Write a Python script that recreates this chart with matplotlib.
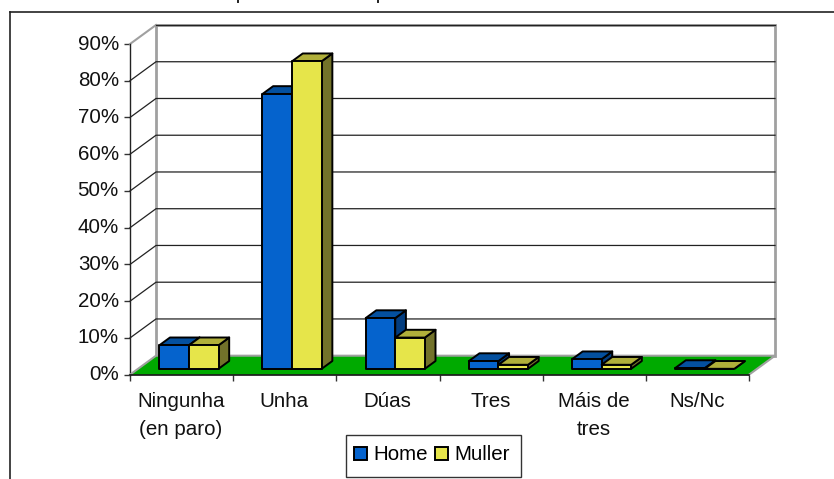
import matplotlib
matplotlib.use("Agg")
import matplotlib.pyplot as plt
from matplotlib.patches import Patch, Polygon, Rectangle
from matplotlib.lines import Line2D
from matplotlib.transforms import ScaledTranslation

categories = ["Ningunha\n(en paro)", "Unha", "Dúas", "Tres", "Máis de\ntres", "Ns/Nc"]
home = [6.4, 74.8, 13.8, 2.1, 2.6, 0.2]
muller = [6.4, 83.7, 8.5, 1.1, 1.1, 0.0]
y_ticks = [0, 10, 20, 30, 40, 50, 60, 70, 80, 90]

W, H = 834, 479
plt.rcParams["font.family"] = ["Liberation Sans", "DejaVu Sans"]
fig = plt.figure(figsize=(W / 100, H / 100), dpi=100)

# front plane of the fake 3d box, pixel box from the reference
left, right, top, bottom = 130, 749, 44, 374.7
ax = fig.add_axes([left / W, 1 - bottom / H, (right - left) / W, (bottom - top) / H])
ax.set_xlim(0, 6)
ax.set_ylim(0, 90)
ax.patch.set_visible(False)
for s in ax.spines.values():
    s.set_visible(False)

# depth of the box in data units
dx = 26 / 103.17
dy = 19 / 3.674
GREY = "#a0a0a0"


def shift(x, y, d):
    return (x + dx * d, y + dy * d)


# walls and floor
ax.add_patch(Rectangle(shift(0, 0, 1), 6, 90, fc="white", ec=GREY, lw=2, clip_on=False, zorder=1))
ax.add_patch(Polygon([(0, 0), (6, 0), shift(6, 0, 1), shift(0, 0, 1)], closed=True,
                     fc="#00aa00", ec="none", clip_on=False, zorder=3))
ax.plot(*zip((0, 90), shift(0, 90, 1)), color=GREY, lw=1.5, clip_on=False, zorder=2)
ax.plot(*zip((0, 0), shift(0, 0, 1), shift(6, 0, 1), (6, 0)), color=GREY, lw=1.5, clip_on=False, zorder=3.5)

# gridlines run along side wall and back wall
for v in y_ticks[1:-1]:
    ax.plot([0, dx, 6 + dx], [v, v + dy, v + dy], color="#222222", lw=0.9, clip_on=False, zorder=2)
ax.plot([dx, 6 + dx], [90 + dy, 90 + dy], color="#222222", lw=0.9, clip_on=False, zorder=2)
ax.plot([0, 0], [0, 90], color="#222222", lw=1, clip_on=False, zorder=2)
ax.plot([0, 6], [0, 0], color="#111111", lw=1.2, clip_on=False, zorder=4)

bar_w = 29.6 / 103.17
near = 0.31
depth = 0.41


def bar(x0, value, face, side, roof, z):
    x1 = x0 + bar_w
    ya = dy * near
    p0 = shift(x0, ya, near)[0]
    p1 = shift(x1, ya, near)[0]
    yt = ya + value
    ex = dx * depth
    ey = dy * depth
    kw = dict(closed=True, ec="black", lw=1.4, clip_on=False, zorder=z, joinstyle="round")
    ax.add_patch(Polygon([(p1, ya), (p1 + ex, ya + ey), (p1 + ex, yt + ey), (p1, yt)], fc=side, **kw))
    ax.add_patch(Polygon([(p0, yt), (p1, yt), (p1 + ex, yt + ey), (p0 + ex, yt + ey)], fc=roof, **kw))
    ax.add_patch(Polygon([(p0, ya), (p1, ya), (p1, yt), (p0, yt)], fc=face, **kw))


for i in range(len(categories)):
    start = i + 0.5 - bar_w - 0.007
    bar(start, home[i], "#0563cd", "#033d7f", "#04509f", 5 + i)
    bar(start + bar_w, muller[i], "#e6e54a", "#72722a", "#b0af3a", 5.5 + i)

ax.set_xticks(range(7))
ax.set_xticklabels([])
ax.set_yticks(y_ticks)
ax.set_yticklabels([f"{v}%" for v in y_ticks], fontsize=14.8, color="#111111")
ax.tick_params(axis="both", length=4, width=1, color="#333333", pad=4)
up = ScaledTranslation(0, 2 / 100, fig.dpi_scale_trans)
for lab in ax.get_yticklabels():
    lab.set_transform(lab.get_transform() + up)
for i, c in enumerate(categories):
    ax.annotate(c, (i + 0.5, 0), xytext=(-0.5, -12.5), textcoords="offset points", ha="center",
                va="top", fontsize=14.8, linespacing=1.62, color="#111111")

# outer frame, cropped at top/bottom/right like the source image
fig.add_artist(Line2D([10 / W, 10 / W], [0, 1 - 11.5 / H], color="#222222", lw=1.2))
fig.add_artist(Line2D([10 / W, 1], [1 - 11.5 / H, 1 - 11.5 / H], color="#222222", lw=1.2))
# the title is cut off by the crop, only two descenders are left
for px in [238, 378]:
    fig.add_artist(Line2D([px / W, px / W], [1, 1 - 2 / H], color="#222222", lw=1.4))

fig.add_artist(Rectangle((346 / W, 1 - 476.5 / H), 175 / W, 41.5 / H, fc="white", ec="#333333", lw=1,
                         transform=fig.transFigure))
handles = [Patch(fc="#0563cd", ec="black", lw=1.4, label="Home"),
           Patch(fc="#e6e54a", ec="black", lw=1.4, label="Muller")]
leg = fig.legend(handles=handles, loc="center", bbox_to_anchor=(432 / W, 1 - 455 / H), ncol=2,
                 fontsize=14.8, frameon=False, handlelength=0.63, handleheight=0.63,
                 handletextpad=0.33, columnspacing=0.35, borderpad=0, borderaxespad=0)

fig.savefig("out.png", dpi=100)
